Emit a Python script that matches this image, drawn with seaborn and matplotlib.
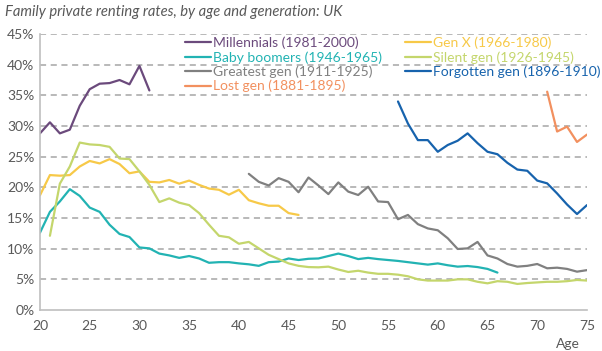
import pandas as pd
import seaborn as sns
import matplotlib.pyplot as plt

# family private renting rates (%)
millennials_age = list(range(20, 32))
millennials = [28.8, 30.6, 28.8, 29.4, 33.3, 36.0, 36.9, 37.0, 37.5, 36.8, 39.8, 35.8]

genx_age = list(range(20, 47))
genx = [18.7, 22.0, 21.9, 22.0, 23.4, 24.3, 23.9, 24.6, 23.8, 22.3, 22.6, 20.9, 20.8,
        21.2, 20.6, 21.1, 20.4, 19.8, 19.6, 18.8, 19.6, 17.9, 17.4, 17.0, 17.0, 15.8, 15.5]

boomers_age = list(range(20, 67))
boomers = [12.6, 16.0, 17.7, 19.7, 18.6, 16.7, 16.0, 13.9, 12.4, 11.9, 10.2, 10.05, 9.2,
           8.9, 8.5, 8.8, 8.4, 7.7, 7.8, 7.8, 7.6, 7.45, 7.2, 7.8, 7.9, 8.4, 8.15, 8.35,
           8.4, 8.8, 9.2, 8.8, 8.3, 8.5, 8.3, 8.15, 8.0, 7.8, 7.6, 7.4, 7.6, 7.3,
           7.07, 7.17, 7.0, 6.7, 6.1]

silent_age = list(range(21, 76))
silent = [12.1, 20.6, 23.4, 27.3, 27.0, 26.9, 26.6, 24.7, 24.6, 22.6, 20.4, 17.6, 18.2,
          17.5, 17.1, 15.8, 13.9, 12.1, 11.85, 10.8, 11.1, 10.05, 9.0, 8.3, 7.6, 7.2, 7.0,
          6.96, 7.07, 6.6, 6.2, 6.4, 6.1, 5.9, 5.9, 5.76, 5.5, 5.0, 4.8, 4.8, 4.8,
          5.0, 5.0, 4.6, 4.35, 4.7, 4.6, 4.25, 4.4, 4.5, 4.6, 4.6, 4.7, 4.9, 4.8]

greatest_age = list(range(41, 76))
greatest = [22.2, 20.9, 20.3, 21.5, 20.9, 19.2, 21.6, 20.3, 18.9, 20.8, 19.3, 18.75,
            20.1, 17.7, 17.6, 14.8, 15.5, 14.0, 13.3, 13.0, 11.7, 9.95, 10.05, 11.1,
            8.9, 8.4, 7.5, 7.07, 7.2, 7.5, 6.8, 6.9, 6.7, 6.25, 6.5]

forgotten_age = list(range(56, 76))
forgotten = [34.0, 30.4, 27.7, 27.7, 25.8, 26.9, 27.6, 28.8, 27.2, 25.8, 25.4, 24.0,
             22.9, 22.7, 21.1, 20.65, 19.0, 17.2, 15.65, 17.1]

lost_age = list(range(71, 76))
lost = [35.6, 29.1, 29.9, 27.4, 28.6]

series = [
    ("Millennials (1981-2000)", millennials_age, millennials, "#6b4a7c"),
    ("Baby boomers (1946-1965)", boomers_age, boomers, "#22b3b3"),
    ("Greatest gen (1911-1925)", greatest_age, greatest, "#808080"),
    ("Lost gen (1881-1895)", lost_age, lost, "#f2905f"),
    ("Gen X (1966-1980)", genx_age, genx, "#f7c948"),
    ("Silent gen (1926-1945)", silent_age, silent, "#c4d66c"),
    ("Forgotten gen (1896-1910)", forgotten_age, forgotten, "#1763ad"),
]

frames = []
for name, ages, vals, _ in series:
    frames.append(pd.DataFrame({"age": ages, "rate": vals, "gen": name}))
df = pd.concat(frames, ignore_index=True)
palette = {name: col for name, _, _, col in series}

sns.set_style("white")
plt.rcParams["font.family"] = ["Lato", "DejaVu Sans"]

fig = plt.figure(figsize=(6.02, 3.51), dpi=100)
ax = fig.add_axes([0.0664, 0.1168, 0.9086, 0.7863])

for y in range(5, 50, 5):
    ax.axhline(y, color="#a6a6a6", lw=1.1, ls=(0, (4, 3)), zorder=0)

sns.lineplot(data=df, x="age", y="rate", hue="gen", hue_order=[s[0] for s in series],
             palette=palette, lw=1.6, ax=ax)

ax.set_xlim(20, 75)
ax.set_ylim(0, 45)
ax.set_xticks(range(20, 76, 5))
ax.set_yticks(range(0, 46, 5))
ax.set_yticklabels([f"{v}%" for v in range(0, 46, 5)])
ax.tick_params(axis="both", colors="#595959", labelsize=10)
ax.tick_params(axis="x", length=4, color="#bfbfbf", width=1)
ax.tick_params(axis="y", length=0, pad=4)
for side in ["top", "right"]:
    ax.spines[side].set_visible(False)
for side in ["left", "bottom"]:
    ax.spines[side].set_color("#bfbfbf")
    ax.spines[side].set_linewidth(1.2)
ax.set_xlabel("Age", color="#595959", fontsize=10)
ax.xaxis.set_label_coords(0.965, -0.1)
ax.set_ylabel("")

leg = ax.legend(loc="upper left", bbox_to_anchor=(0.255, 1.01), ncol=2, frameon=False,
                fontsize=10, handlelength=1.9, handletextpad=0.15, labelspacing=0.13,
                columnspacing=1.6, labelcolor="linecolor", borderaxespad=0)
for line in leg.get_lines():
    line.set_linewidth(1.6)

fig.text(0.008, 0.955, "Family private renting rates, by age and generation: UK",
         fontsize=10.6, style="italic", color="#595959")

fig.savefig("out.png", dpi=100)
